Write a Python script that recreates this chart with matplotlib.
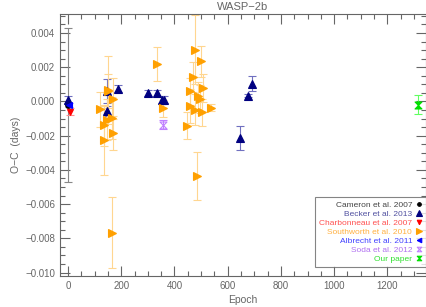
import matplotlib
matplotlib.use("Agg")
import matplotlib.pyplot as plt
from matplotlib.path import Path
from matplotlib.ticker import MultipleLocator

# O-C timing data for WASP-2b
cam_epoch = [0]
cam_oc = [-0.0002]
cam_err = [0.0045]

bec_epoch = [0, 146, 146, 187, 299, 336, 352, 362, 647, 677, 692]
bec_oc = [0.0001, -0.00055, 0.0006, 0.00073, 0.00049, 0.00049, 0.0001, 0.0001, -0.00214, 0.00033, 0.00103]
bec_err = [0.0002, 0.0003, 0.0007, 0.0002, 0.0002, 0.0002, 0.0002, 0.0002, 0.0007, 0.0001, 0.00045]

cha_epoch = [9]
cha_oc = [-0.0006]
cha_err = [0.0002]

sou_epoch = [121, 134, 134, 146, 152, 152, 165, 165, 171, 171,
             334, 356, 446, 459, 459, 471, 478, 478, 484, 490,
             496, 500, 502, 508, 536]
sou_oc = [-0.00047, -0.00140, -0.00228, -0.00107, 0.00068, 0.0006, -0.00097, -0.00766, 0.00016, -0.00185,
          0.00219, -0.00039, -0.00142, 0.00058, -0.00025, 0.00143, 0.00302, -0.00049, -0.00434, 0.00033,
          0.00014, 0.00234, -0.00064, 0.00078, -0.00036]
sou_err = [0.0010, 0.0012, 0.0020, 0.0012, 0.0020, 0.0010, 0.0012, 0.0021, 0.0012, 0.0010,
           0.0010, 0.0005, 0.0008, 0.0008, 0.0010, 0.0009, 0.0020, 0.0009, 0.0014, 0.0008,
           0.0008, 0.0009, 0.0008, 0.0008, 0.0002]

alb_epoch = [5]
alb_oc = [-0.0002]
alb_err = [0.0001]

soda_epoch = [356]
soda_oc = [-0.00136]
soda_err = [0.00025]

our_epoch = [1315]
our_oc = [-0.0002]
our_err = [0.00055]

hourglass = Path([(-1, 1), (1, 1), (-1, -1), (1, -1), (-1, 1)],
                 [Path.MOVETO, Path.LINETO, Path.LINETO, Path.LINETO, Path.CLOSEPOLY])

grey = "#666666"
plt.rcParams["font.family"] = ["Liberation Sans", "DejaVu Sans"]

fig = plt.figure(figsize=(4.27, 3.07), dpi=100)
ax = fig.add_axes([0.1405, 0.101, 0.857, 0.853])

series = [
    (cam_epoch, cam_oc, cam_err, "o", "black", "#888888", "Cameron et al. 2007", "#444444", 4),
    (bec_epoch, bec_oc, bec_err, "^", "#000080", "#7070c0", "Becker et al. 2013", "#5050a0", 6),
    (cha_epoch, cha_oc, cha_err, "v", "red", "#ff9090", "Charbonneau et al. 2007", "#ff5050", 5),
    (sou_epoch, sou_oc, sou_err, ">", "#ffa000", "#ffd690", "Southworth et al. 2010", "#ffb040", 6.3),
    (alb_epoch, alb_oc, alb_err, "<", "blue", "#8080ff", "Albrecht et al. 2011", "#4040ff", 5),
    (soda_epoch, soda_oc, soda_err, hourglass, "none", "#c080ff", "Soda et al. 2012", "#b070f0", 5),
    (our_epoch, our_oc, our_err, hourglass, "#00e000", "#60ff60", "Our paper", "#30e030", 5),
]

handles = []
for ep, oc, err, mk, col, ecol, lab, tcol, ms in series:
    if col == "none":
        mfc, mec = "none", "#c080ff"
    else:
        mfc, mec = col, col
    ax.errorbar(ep, oc, yerr=err, fmt="none", ecolor=ecol, elinewidth=0.8,
                capsize=3, capthick=0.8, zorder=2)
    p, = ax.plot(ep, oc, linestyle="none", marker=mk, ms=ms, mfc=mfc, mec=mec,
                 mew=0.8, label=lab, zorder=3)
    handles.append((p, tcol))

ax.set_xlim(-30, 1345)
ax.set_ylim(-0.0102, 0.0051)
ax.xaxis.set_major_locator(MultipleLocator(200))
ax.xaxis.set_minor_locator(MultipleLocator(50))
ax.yaxis.set_major_locator(MultipleLocator(0.002))
ax.yaxis.set_minor_locator(MultipleLocator(0.0005))
ax.tick_params(which="both", direction="in", top=True, right=True, colors=grey,
               labelsize=7, width=0.8)
ax.tick_params(which="major", length=7)
ax.tick_params(which="minor", length=3.5)
ax.yaxis.set_major_formatter(plt.FuncFormatter(lambda v, p: f"{v:.3f}".replace("-", "\u2212")))
for s in ax.spines.values():
    s.set_color(grey)
    s.set_linewidth(0.8)

ax.set_xlabel("Epoch", color=grey, fontsize=7.5, labelpad=3)
ax.set_ylabel("O\u2212C  (days)", color=grey, fontsize=7.5, labelpad=3)
ax.set_title("WASP\u22122b", color=grey, fontsize=8, pad=3)

leg = ax.legend([h for h, _ in handles], [h.get_label() for h, _ in handles],
                loc="lower right", markerfirst=False, fontsize=6, frameon=True,
                fancybox=False, edgecolor=grey, handlelength=0.7, handletextpad=0.5,
                labelspacing=0.15, borderpad=0.45, markerscale=0.65,
                borderaxespad=0, bbox_to_anchor=(1.0, 0.034))
leg.get_frame().set_linewidth(0.8)
for txt, (_, tcol) in zip(leg.get_texts(), handles):
    txt.set_color(tcol)

fig.savefig("out.png", dpi=100)
